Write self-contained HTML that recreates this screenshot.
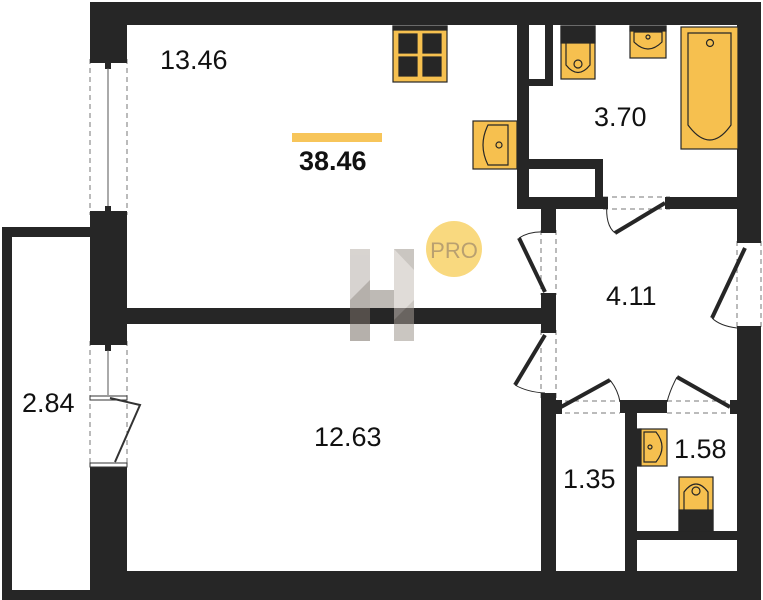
<!DOCTYPE html>
<html><head><meta charset="utf-8"><style>
html,body{margin:0;padding:0;background:#fff;width:763px;height:600px;overflow:hidden}
svg{display:block}
text{font-family:"Liberation Sans",sans-serif;fill:#111}
</style></head><body>
<svg width="763" height="600" viewBox="0 0 763 600" xmlns="http://www.w3.org/2000/svg">
<g fill="#262626">
<rect x="2" y="227" width="88" height="10"/>
<rect x="2" y="227" width="10" height="373"/>
<rect x="2" y="590" width="88" height="10"/>
<rect x="90" y="2" width="671" height="23"/>
<rect x="90" y="2" width="37" height="57"/>
<rect x="90" y="215" width="37" height="126"/>
<rect x="90" y="467" width="37" height="133"/>
<rect x="90" y="571" width="671" height="29"/>
<rect x="737" y="2" width="24" height="239"/>
<rect x="737" y="330" width="24" height="270"/>
<rect x="127" y="308" width="428" height="16"/>
<rect x="517" y="25" width="12" height="184"/>
<rect x="545" y="25" width="8" height="60"/>
<rect x="529" y="79" width="24" height="7"/>
<rect x="529" y="159" width="74" height="10"/>
<rect x="595" y="159" width="8" height="50"/>
<rect x="517" y="197" width="86" height="12"/>
<rect x="670" y="197" width="67" height="12"/>
<rect x="541" y="209" width="15" height="21"/>
<rect x="541" y="295" width="15" height="35"/>
<rect x="541" y="398" width="15" height="173"/>
<rect x="625" y="400" width="12" height="171"/>
<rect x="620" y="400" width="47" height="13"/>
<rect x="637" y="531" width="100" height="9"/>
</g>
<g stroke="#777" stroke-dasharray="5,4" fill="none" stroke-width="1">
<line x1="90" y1="59" x2="90" y2="215"/><line x1="127" y1="59" x2="127" y2="215"/>
<line x1="90" y1="341" x2="90" y2="467"/><line x1="127" y1="341" x2="127" y2="467"/>
<line x1="541" y1="230" x2="541" y2="295"/><line x1="556" y1="230" x2="556" y2="295"/>
<line x1="541" y1="330" x2="541" y2="398"/><line x1="556" y1="330" x2="556" y2="398"/>
<line x1="737" y1="241" x2="737" y2="330"/><line x1="761" y1="241" x2="761" y2="330"/>
<line x1="603" y1="197" x2="670" y2="197"/><line x1="603" y1="209" x2="670" y2="209"/>
<line x1="556" y1="401" x2="620" y2="401"/><line x1="556" y1="413" x2="620" y2="413"/>
<line x1="667" y1="401" x2="737" y2="401"/><line x1="667" y1="413" x2="737" y2="413"/>
</g>
<g fill="#262626">
<rect x="90" y="59" width="37" height="4"/><rect x="105" y="63" width="6" height="6"/>
<rect x="90" y="211" width="37" height="4"/><rect x="105" y="206" width="6" height="6"/>
<rect x="90" y="341" width="37" height="4"/><rect x="105" y="345" width="6" height="6"/>
</g>
<line x1="108" y1="68" x2="108" y2="206" stroke="#555" stroke-width="1"/>
<line x1="108" y1="350" x2="108" y2="395" stroke="#555" stroke-width="1"/>
<rect x="90" y="396" width="37" height="4" fill="#fff" stroke="#333" stroke-width="1"/>
<rect x="90" y="463" width="37" height="4" fill="#fff" stroke="#333" stroke-width="1"/>
<path d="M110 398 L140 405 L115 462" fill="none" stroke="#333" stroke-width="2"/>
<g stroke="#262626" stroke-width="4" fill="none">
<line x1="665" y1="203" x2="615" y2="233"/>
<line x1="545" y1="292" x2="519" y2="238"/>
<line x1="745" y1="248" x2="712" y2="318"/>
<line x1="545" y1="335" x2="515" y2="385"/>
<line x1="561" y1="407" x2="610" y2="380"/>
<line x1="730" y1="407" x2="677" y2="377"/>
</g>
<g stroke="#262626" stroke-width="1" fill="none">
<path d="M607 203 Q605 225 615 233"/>
<path d="M519 238 Q530 231 545 232"/>
<path d="M712 318 Q720 326 737 328"/>
<path d="M515 385 Q527 392 545 393"/>
<path d="M610 380 Q618 390 620 402"/>
<path d="M677 377 Q670 390 667 402"/>
</g>
<g fill="#262626">
<rect x="601" y="197" width="7" height="12"/><rect x="665" y="197" width="7" height="12"/>
<rect x="541" y="228" width="15" height="5"/><rect x="541" y="293" width="15" height="5"/>
<rect x="541" y="328" width="15" height="5"/><rect x="541" y="393" width="15" height="5"/>
<rect x="737" y="238" width="24" height="5"/><rect x="737" y="326" width="24" height="5"/>
<rect x="556" y="400" width="6" height="14"/><rect x="730" y="400" width="7" height="14"/>
</g>
<g stroke="#262626" stroke-width="1.2">
<rect x="393" y="26" width="54" height="56" fill="#f6c04f"/>
<rect x="393" y="26" width="54" height="4" fill="#262626"/>
<rect x="399" y="34" width="18" height="19" fill="#262626"/><rect x="423" y="34" width="18" height="19" fill="#262626"/>
<rect x="399" y="57" width="18" height="19" fill="#262626"/><rect x="423" y="57" width="18" height="19" fill="#262626"/>
<rect x="473" y="121" width="44" height="48" fill="#f6c04f"/>
<path d="M508 125 L488 125 Q478 145 488 165 L508 165 Z" fill="#f6c04f"/>
<circle cx="499" cy="145" r="3" fill="none"/>
<rect x="561" y="26" width="34" height="53" fill="#f6c04f"/>
<rect x="561" y="26" width="34" height="17" fill="#262626"/>
<path d="M566 43 L566 65 Q578 80 590 65 L590 43" fill="none"/>
<circle cx="578" cy="64" r="4" fill="none"/>
<rect x="630" y="26" width="36" height="32" fill="#f6c04f"/>
<rect x="630" y="26" width="36" height="5" fill="#262626"/>
<path d="M634 32 L634 42 Q648 56 662 42 L662 32 Z" fill="none"/>
<circle cx="648" cy="37" r="2" fill="none"/>
<rect x="681" y="27" width="57" height="122" fill="#f6c04f"/>
<path d="M688 33 L731 33 L731 125 Q710 155 688 125 Z" fill="none"/>
<circle cx="710" cy="43" r="3.5" fill="none"/>
<rect x="640" y="429" width="27" height="37" fill="#f6c04f"/>
<rect x="637" y="429" width="4" height="37" fill="#262626"/>
<path d="M644 432 L656 432 Q668 447 656 462 L644 462 Z" fill="none"/>
<circle cx="650" cy="447" r="2" fill="none"/>
<rect x="679" y="477" width="34" height="54" fill="#f6c04f"/>
<rect x="679" y="510" width="34" height="21" fill="#262626"/>
<path d="M684 510 L684 492 Q696 476 708 492 L708 510" fill="none"/>
<circle cx="696" cy="491" r="4" fill="none"/>
</g>
<rect x="292" y="133" width="90" height="9" fill="#f7c55a"/>
<g opacity="0.55">
<rect x="350" y="249" width="20" height="92" fill="#b8b0aa"/>
<rect x="394" y="249" width="20" height="92" fill="#a09890"/>
<rect x="370" y="290" width="24" height="18" fill="#8a827a"/>
<polygon points="350,300 370,280 370,341 350,341" fill="#7a7068"/>
<polygon points="394,249 414,270 414,300 394,320" fill="#c8c0ba"/>
</g>
<circle cx="454" cy="249" r="28" fill="#f9d97f"/>
<text x="454" y="258" font-size="22" text-anchor="middle" style="fill:#b9a070">PRO</text>
<g font-size="27">
<text x="160" y="69">13.46</text>
<text x="594" y="126">3.70</text>
<text x="606" y="305">4.11</text>
<text x="314" y="446">12.63</text>
<text x="22" y="412">2.84</text>
<text x="563" y="488">1.35</text>
<text x="674" y="458">1.58</text>
</g>
<text x="299" y="170" font-size="27" font-weight="bold">38.46</text>
</svg>
</body></html>
